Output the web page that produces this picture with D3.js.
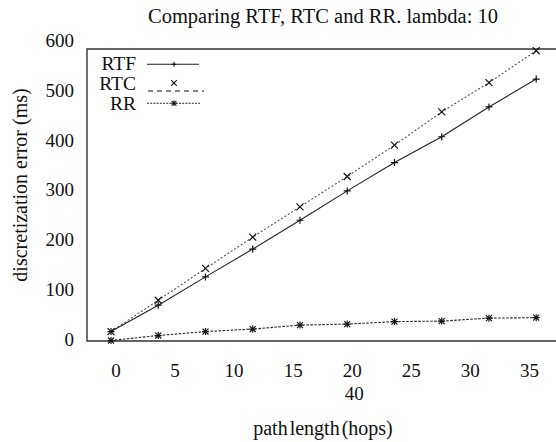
<!DOCTYPE html>
<html><head><meta charset="utf-8">
<script src="https://cdn.jsdelivr.net/npm/d3@7"></script>
<style>body{margin:0;background:#fff}svg{display:block}</style>
</head><body><svg id="c" width="556" height="442" font-family="'Liberation Serif', 'Times New Roman', Times, 'DejaVu Serif', serif" fill="#111"></svg>
<script>
const hops = [0, 4, 8, 12, 16, 20, 24, 28, 32, 36];
const rtf = [19, 72, 129, 185, 243, 302, 359, 411, 471, 527];
const rtc = [19, 82, 146, 209, 270, 331, 394, 461, 520, 584];
const rr = [1, 11, 19, 24, 32, 34, 39, 40, 46, 47];
const xTicks = [0, 5, 10, 15, 20, 25, 30, 35];
const xWrapTick = {label: "40", under: 20};
const yTicks = [0, 100, 200, 300, 400, 500, 600];
const seriesNames = ["RTF", "RTC", "RR"];

(function () {
const svg = d3.select("#c");
const W = 556, H = 442;
const pLeft = 87, pTop = 49, pBottom = 341;
const FF = "'Liberation Serif', 'Times New Roman', Times, 'DejaVu Serif', serif";
const x = d3.scaleLinear().domain([0, 36]).range([111, 536.2]);
const y = d3.scaleLinear().domain([0, 600]).range([pBottom, 42.8]);

function txt(sel) { return sel.attr("font-family", FF).attr("fill", "#111"); }

// title
txt(svg.append("text")).attr("x", 323).attr("y", 16).attr("text-anchor", "middle")
  .attr("dominant-baseline", "central").attr("font-size", 20.5)
  .text("Comparing RTF, RTC and RR. lambda: 10");

// frame (left, top, bottom)
const frame = svg.append("g").attr("stroke", "#333").attr("stroke-width", 1.4).attr("fill", "none");
frame.append("path").attr("d", `M${W},${pTop}H${pLeft}V${pBottom}H${W}`);

// y tick labels
txt(svg.append("g").selectAll("text").data(yTicks).join("text"))
  .attr("x", 74).attr("y", d => y(d) - 2).attr("text-anchor", "end")
  .attr("dominant-baseline", "central").attr("font-size", 19).text(d => d);

// x tick labels
txt(svg.append("g").selectAll("text").data(xTicks).join("text"))
  .attr("x", d => x(d) + 5).attr("y", 370).attr("text-anchor", "middle")
  .attr("dominant-baseline", "central").attr("font-size", 19).text(d => d);
txt(svg.append("text")).attr("x", x(xWrapTick.under) + 7).attr("y", 393).attr("text-anchor", "middle")
  .attr("dominant-baseline", "central").attr("font-size", 19).text(xWrapTick.label);

// axis titles
txt(svg.append("text")).attr("x", 323).attr("y", 428).attr("text-anchor", "middle")
  .attr("dominant-baseline", "central").attr("font-size", 20).attr("word-spacing", -3)
  .text("path length (hops)");
txt(svg.append("text")).attr("transform", "translate(20,185) rotate(-90)").attr("text-anchor", "middle")
  .attr("dominant-baseline", "central").attr("font-size", 20)
  .text("discretization error (ms)");

// markers
function plus(g, cx, cy, s) {
  g.append("path").attr("d", `M${cx - s},${cy}H${cx + s}M${cx},${cy - s}V${cy + s}`);
}
function cross(g, cx, cy, s) {
  g.append("path").attr("d", `M${cx - s},${cy - s}L${cx + s},${cy + s}M${cx - s},${cy + s}L${cx + s},${cy - s}`);
}
function star(g, cx, cy, s) { plus(g, cx, cy, s); cross(g, cx, cy, s * 0.85); }

const series = [
  {name: seriesNames[0], vals: rtf, stroke: "#222", dash: null, legendDash: null, mk: plus, w: 1.1},
  {name: seriesNames[1], vals: rtc, stroke: "#555", dash: "2,2", legendDash: "5,4", mk: cross, w: 1.1},
  {name: seriesNames[2], vals: rr, stroke: "#222", dash: "2.5,1.5", legendDash: "2,1.2", mk: star, w: 1.1}
];
const line = d3.line().x(d => x(d[0])).y(d => y(d[1]));
[2, 1, 0].forEach(i => {
  const s = series[i];
  const pts = hops.map((h, j) => [h, s.vals[j]]);
  svg.append("path").attr("d", line(pts)).attr("fill", "none").attr("stroke", s.stroke)
    .attr("stroke-width", s.w).attr("stroke-dasharray", s.dash);
  const g = svg.append("g").attr("stroke", "#111").attr("stroke-width", 1.2).attr("fill", "none");
  pts.forEach(p => s.mk(g, x(p[0]), y(p[1]), 3.5));
});

// legend
const leg = [
  {textY: 63, lineY: 64.3, mkY: 64.3, x1: 147, x2: 199},
  {textY: 83, lineY: 91, mkY: 83, x1: 148, x2: 204},
  {textY: 103, lineY: 103.3, mkY: 103.3, x1: 147, x2: 200}
];
series.forEach((s, i) => {
  const L = leg[i];
  txt(svg.append("text")).attr("x", 136).attr("y", L.textY).attr("text-anchor", "end")
    .attr("dominant-baseline", "central").attr("font-size", 19.5).text(s.name);
  svg.append("line").attr("x1", L.x1).attr("x2", L.x2).attr("y1", L.lineY).attr("y2", L.lineY)
    .attr("stroke", i === 1 ? "#111" : s.stroke).attr("stroke-width", 1.1).attr("stroke-dasharray", s.legendDash);
  const g = svg.append("g").attr("stroke", "#111").attr("stroke-width", 1.1).attr("fill", "none");
  s.mk(g, 174, L.mkY, i === 0 ? 2.5 : 2.8);
});
})();
</script></body></html>
